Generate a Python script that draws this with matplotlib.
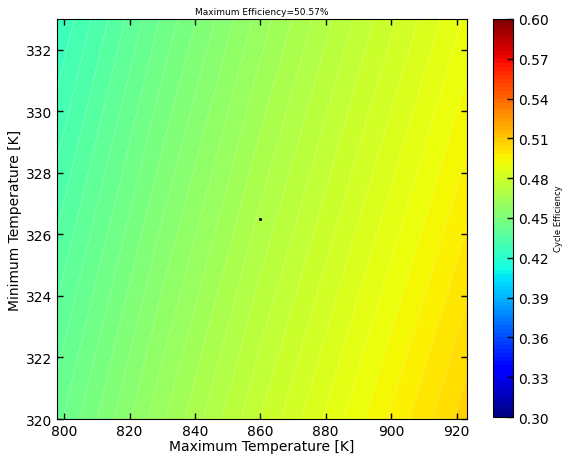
import numpy as np
import matplotlib
matplotlib.use("Agg")
import matplotlib.pyplot as plt

# Grid (efficiency at a few points)
t_max = [797.8, 830, 860, 890, 923.2]
t_min = [320, 326.5, 333]
eff_320 = [0.4430, 0.4615, 0.4771, 0.4911, 0.5057]
eff_3265 = [0.4345, 0.4530, 0.4687, 0.4829, 0.4976]
eff_333 = [0.4260, 0.4445, 0.4603, 0.4748, 0.4897]

best_t_max = [860]
best_t_min = [326.5]

plt.rcParams['xtick.direction'] = 'in'
plt.rcParams['ytick.direction'] = 'in'
plt.rcParams['xtick.top'] = True
plt.rcParams['ytick.right'] = True

fig = plt.figure(figsize=(5.62, 4.56), dpi=100)
ax = fig.add_axes([0.1014, 0.0789, 0.7295, 0.877])
cax = fig.add_axes([0.877, 0.0833, 0.0356, 0.873])

Z = np.array([eff_320, eff_3265, eff_333])
levels = np.linspace(0.30, 0.60, 101)
cs = ax.contourf(t_max, t_min, Z, levels=levels, cmap='jet', vmin=0.30, vmax=0.60)
# faint seams between the filled bands
ax.contour(t_max, t_min, Z, levels=levels, colors='white', linewidths=0.4, alpha=0.35)
ax.plot(best_t_max, best_t_min, 'k.', markersize=2.5)

ax.set_xlim(797.8, 923.2)
ax.set_ylim(320, 333)
ax.set_xticks([800, 820, 840, 860, 880, 900, 920])
ax.set_yticks([320, 322, 324, 326, 328, 330, 332])
ax.tick_params(labelsize=10, length=4, width=1)
ax.set_xlabel('Maximum Temperature [K]', fontsize=10, labelpad=1)
ax.set_ylabel('Minimum Temperature [K]', fontsize=10, labelpad=3)
ax.set_title('Maximum Efficiency=50.57%', fontsize=6.5, pad=4)

cb = fig.colorbar(cs, cax=cax, ticks=np.arange(0.30, 0.601, 0.03), format='%.2f')
cb.ax.tick_params(labelsize=10, direction='in', length=4, width=1)
cb.set_label('Cycle Efficiency', fontsize=6)

fig.savefig('out.png', dpi=100)
